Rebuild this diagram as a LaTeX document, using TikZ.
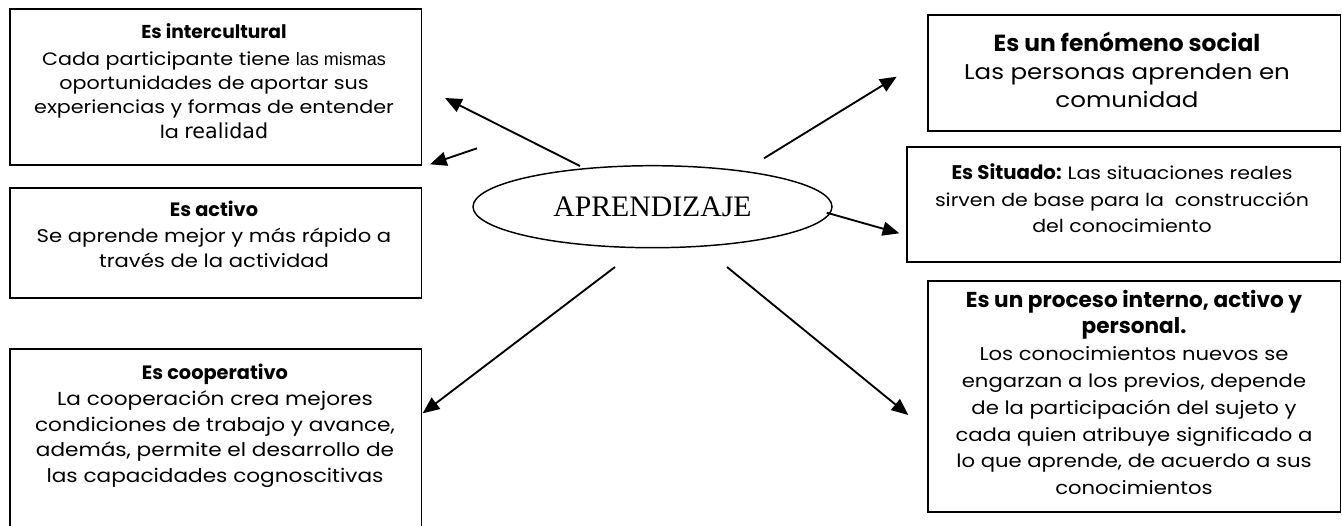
\documentclass[tikz,border=0pt]{standalone}
\usepackage{fontspec}
\setmainfont{Poppins}[FakeStretch=1.15]
\newfontfamily\ttlf{Poppins}
\newfontfamily\timesf{Liberation Serif}
\newfontfamily\arialf{Liberation Sans}
\newfontfamily\verdf{DejaVu Sans}
\newcommand\mytitle[1]{{\ttlf\bfseries #1}}
\usetikzlibrary{arrows.meta,shapes.geometric,fit}
\begin{document}
\begin{tikzpicture}[x=0.75pt,y=-0.75pt,
  frame/.style={draw,line width=1.4pt,inner sep=0pt},
  txt/.style={align=center,inner sep=0pt,anchor=north},
  arr/.style={line width=1.4pt,-{Triangle[length=12.5pt,width=10.5pt]}}]
\useasboundingbox (0,0) rectangle (1342,525);
\clip (0,0) rectangle (1342,525);
% boxes
\node[frame,fit={(10,9) (421.5,165)}] (b1) {};
\node[frame,fit={(10,188) (421.5,298)}] (b2) {};
\node[frame,fit={(10,349) (421.5,540)}] (b3) {};
\node[frame,fit={(928,15) (1340.5,131)}] (b4) {};
\node[frame,fit={(907,147) (1340.5,262)}] (b5) {};
\node[frame,fit={(928,281) (1340.5,512)}] (b6) {};
% texts
\node[txt,font=\fontsize{13.5}{18.3}\selectfont] (t1) at (214,23.5)
 {\mytitle{\fontsize{14}{18.3}\selectfont Es intercultural}\\[1.5pt]
  Cada participante tiene {\arialf\fontsize{13.5}{18.3}\selectfont las mismas}\\
  oportunidades de aportar sus\\
  experiencias y formas de entender\\
  la {\verdf\fontsize{15.5}{18.3}\selectfont realidad}};
\node[txt,font=\fontsize{13.8}{19}\selectfont] (t2) at (214,201)
 {\mytitle{\fontsize{14.5}{19}\selectfont Es activo}\\
  Se aprende mejor y más rápido a\\
  través de la actividad};
\node[txt,font=\fontsize{14.1}{19.3}\selectfont] (t3) at (215,364)
 {\mytitle{\fontsize{14.5}{19.3}\selectfont Es cooperativo}\\
  La cooperación crea mejores\\
  condiciones de trabajo y avance,\\
  además, permite el desarrollo de\\
  las capacidades cognoscitivas};
\node[txt,font=\fontsize{16}{21}\selectfont] (t4) at (1127,32)
 {\mytitle{\fontsize{17.5}{21}\selectfont Es un fenómeno social}\\
  Las personas aprenden en\\
  comunidad};
\node[txt,font=\fontsize{13.4}{20}\selectfont] (t5) at (1122,163.5)
 {\mytitle{\fontsize{14.8}{20}\selectfont Es Situado:}\hspace{-1pt} Las situaciones reales\\
  sirven de base para la\ \ construcción\\
  del conocimiento};
\node[txt,font=\fontsize{13.8}{20.1}\selectfont] (t6) at (1134,289.5)
 {\mytitle{\fontsize{16.2}{20.1}\selectfont Es un proceso interno, activo y}\\
  \mytitle{\fontsize{16.2}{20.1}\selectfont personal.}\\
  Los conocimientos nuevos se\\
  engarzan a los previos, depende\\
  de la participación del sujeto y\\
  cada quien atribuye significado a\\
  lo que aprende, de acuerdo a sus\\
  conocimientos};
% centre
\node[draw,ellipse,line width=1.1pt,minimum width=359*0.75pt,minimum height=82*0.75pt,inner sep=0pt,
  font=\timesf\fontsize{22.3}{26}\selectfont] (c) at (652.5,206.7) {APRENDIZAJE};
% arrow ends
\coordinate (s1) at (580,166);   \coordinate (e1) at (445,98);
\coordinate (s2) at (477,148.3); \coordinate (e2) at (430,164.3);
\coordinate (s3) at (764,158.3); \coordinate (e3) at (896.7,76.7);
\coordinate (s4) at (826.7,212.7); \coordinate (e4) at (899.3,233.3);
\coordinate (s5) at (615,267);   \coordinate (e5) at (422.7,413.3);
\coordinate (s6) at (727,267);   \coordinate (e6) at (908.3,415);
\draw[arr] (s1) -- (e1);
\draw[arr] (s2) -- (e2);
\draw[arr] (s3) -- (e3);
\draw[arr] (s4) -- (e4);
\draw[arr] (s5) -- (e5);
\draw[arr] (s6) -- (e6);
\end{tikzpicture}
\end{document}
